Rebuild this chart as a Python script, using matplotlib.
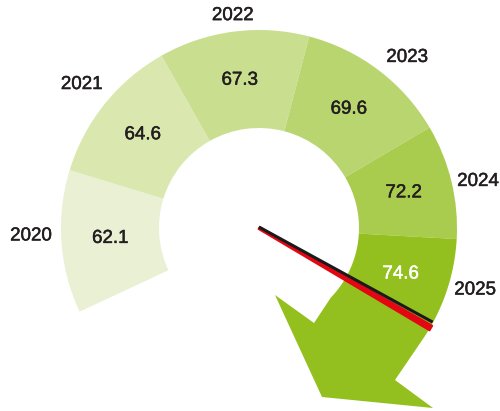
import numpy as np
import matplotlib
matplotlib.use('Agg')
import matplotlib.pyplot as plt
import matplotlib.patheffects as pe
from matplotlib.patches import Wedge, Polygon

plt.rcParams['font.family'] = ['Liberation Sans', 'DejaVu Sans']

# data
years = ['2020', '2021', '2022', '2023', '2024', '2025']
values = [62.1, 64.6, 67.3, 69.6, 72.2, 74.6]
needle_value = 74.6

# gauge layout (degrees, counter-clockwise from east)
bounds = [205, 163, 119.5, 75.3, 30.5, -3.2, -33]
colors = ['#e9f0d4', '#dae8b0', '#c9df8f', '#b9d570', '#a9cc4e', '#93c01e']
r_in, r_out = 100, 198
year_ang = [182, 141, 97, 49, 12, -16]
year_rad = [228, 228, 214, 226, 224, 225]


def pol(r, a):
    a = np.radians(a)
    return r * np.cos(a), r * np.sin(a)


fig = plt.figure(figsize=(5, 4.11), dpi=100)
ax = fig.add_axes([0, 0, 1, 1])
ax.set_xlim(-259, 241)
ax.set_ylim(-183, 228)
ax.set_aspect('equal')
ax.axis('off')

for i in range(5):
    ax.add_patch(Wedge((0, 0), r_out, bounds[i + 1], bounds[i],
                       width=r_out - r_in, color=colors[i], lw=0))

# last segment turns into a big arrow
t = np.linspace(bounds[5], bounds[6], 30)
outer = [pol(r_out, a) for a in t]
t2 = np.linspace(-44, bounds[5], 30)
inner = [pol(r_in, a) for a in t2]
head = [(136, -152), (174, -180), (63, -169), (16, -67), (55, -95)]
ax.add_patch(Polygon(outer + head + inner, closed=True, color=colors[5], lw=0))


def heavy(c):
    return [pe.withStroke(linewidth=0.35, foreground=c)]


# value labels
for i, v in enumerate(values):
    mid = (bounds[i] + bounds[i + 1]) / 2 if i < 5 else -18
    x, y = pol(149, mid)
    c = 'white' if i == 5 else '#231f20'
    ax.text(x, y, f'{v:.1f}', ha='center', va='center', fontsize=13.5,
            color=c, path_effects=heavy(c))

# year labels
for i, yr in enumerate(years):
    x, y = pol(year_rad[i], year_ang[i])
    ax.text(x, y, yr, ha='center', va='center', fontsize=13.5, color='#231f20',
            path_effects=heavy('#231f20'))

# needle: black shadow + tapered red blade
bx, by = pol(198, -28.7)
ax.plot([0, bx], [1, by + 1], color='#1a1a1a', lw=2.2, solid_capstyle='butt')
ang = np.radians(-30.2)
d = np.array([np.cos(ang), np.sin(ang)])
nrm = np.array([np.sin(ang), -np.cos(ang)])
L = 199
blade = [(-nrm * 1.2).tolist(), (nrm * 1.2).tolist(),
         (d * L + nrm * 2.8).tolist(), (d * L - nrm * 2.8).tolist()]
ax.add_patch(Polygon(blade, closed=True, color='#e30613', lw=1.2, joinstyle='round'))

fig.savefig('out.png', dpi=100)
